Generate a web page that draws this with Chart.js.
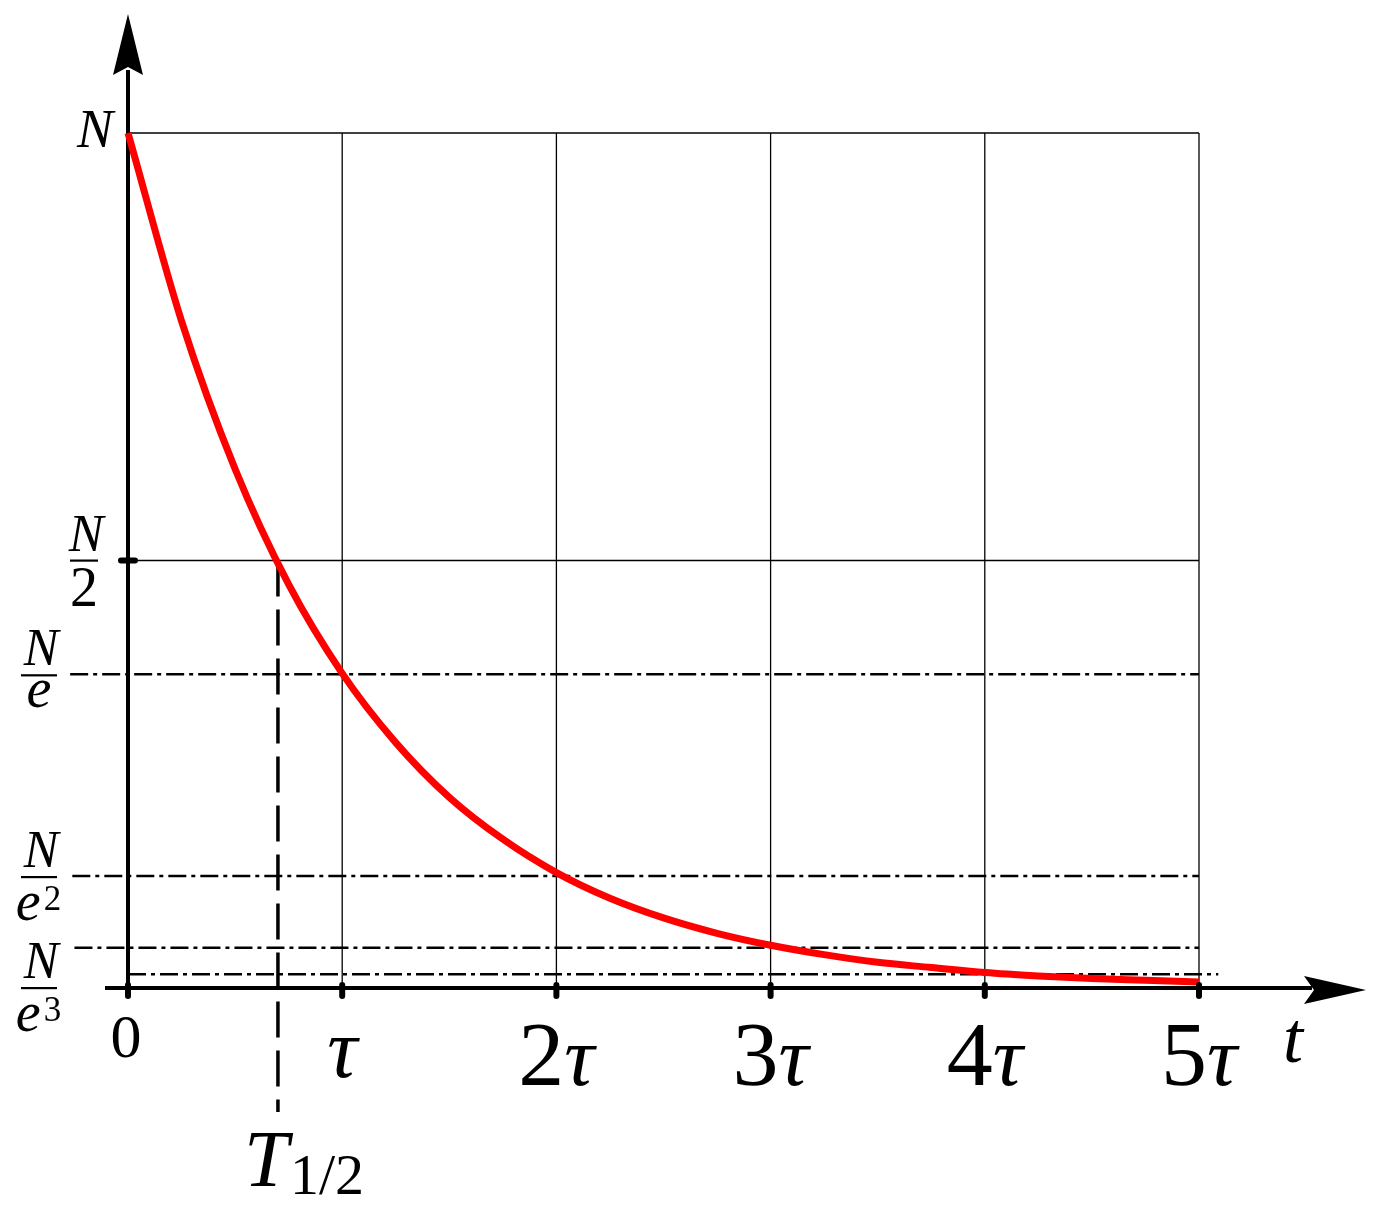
<!DOCTYPE html>
<html>
<head>
<meta charset="utf-8">
<script src="https://cdn.jsdelivr.net/npm/chart.js@4.4.1/dist/chart.umd.min.js"></script>
<style>
  html, body { margin: 0; padding: 0; background: #fff; }
  #wrap { width: 1379px; height: 1218px; position: relative; }
</style>
</head>
<body>
<div id="wrap"><canvas id="decay-chart"></canvas></div>
<script>
// ---- data (t in units of tau, N in units of N0) ----
const times = [0, 0.25, 0.5, 0.75, 1, 1.25, 1.5, 1.75, 2, 2.25, 2.5, 2.75, 3, 3.25, 3.5, 3.75, 4, 4.25, 4.5, 4.75, 5];
const counts = [1.0, 0.78, 0.607, 0.472, 0.368, 0.287, 0.223, 0.174, 0.135, 0.105, 0.082, 0.064, 0.05, 0.039, 0.03, 0.024, 0.018, 0.014, 0.011, 0.009, 0.007];

const tickTimes = [0, 1, 2, 3, 4, 5];
const tickLabels = ['0', 'τ', '2τ', '3τ', '4τ', '5τ'];
const gridTimes = [1, 2, 3, 4, 5];
const gridLevels = [1, 0.5];

// dash-dot reference levels N/e, N/e^2, N/e^3, N/e^4 and where each one starts / ends
const refLevels = [0.367, 0.131, 0.047, 0.016];
const refFrom = [-0.27, -0.26, -0.25, 0];
const refTo = [5, 5, 5, 5.09];

const halfLife = 0.70;
const halfLifeBottom = -0.145;

const FONT = "'Liberation Serif', 'DejaVu Serif', serif";

// ---- datasets ----
const datasets = [];

datasets.push({
    label: 'N(t)',
    data: times.map((t, i) => ({ x: t, y: counts[i] })),
    borderColor: '#ff0000',
    borderWidth: 7,
    pointRadius: 0,
    cubicInterpolationMode: 'monotone',
    order: 0
});

gridTimes.forEach(t => {
    datasets.push({
        data: [{ x: t, y: 0 }, { x: t, y: 1 }],
        borderColor: '#000', borderWidth: 1.3, pointRadius: 0, order: 5
    });
});
gridLevels.forEach(v => {
    datasets.push({
        data: [{ x: 0, y: v }, { x: 5, y: v }],
        borderColor: '#000', borderWidth: 1.3, pointRadius: 0, order: 5
    });
});
refLevels.forEach((v, i) => {
    datasets.push({
        data: [{ x: refFrom[i], y: v }, { x: refTo[i], y: v }],
        borderColor: '#000', borderWidth: 2.6, borderDash: [18, 5, 4, 5],
        pointRadius: 0, order: 4
    });
});
datasets.push({
    data: [{ x: halfLife, y: 0.5 }, { x: halfLife, y: halfLifeBottom }],
    borderColor: '#000', borderWidth: 3.5, borderDash: [36, 13],
    pointRadius: 0, order: 3
});

// ---- axes, arrows, ticks and labels ----
function fraction(ctx, cx, barY, halfW, num, den, sup) {
    ctx.font = 'italic 52px ' + FONT;
    ctx.textAlign = 'center';
    ctx.textBaseline = 'alphabetic';
    ctx.fillText(num, cx + 2, barY - 10);
    ctx.fillRect(cx - halfW, barY - 1, halfW * 2, 2.2);
    if (sup) {
        ctx.font = 'italic 56px ' + FONT;
        const w = ctx.measureText(den).width;
        ctx.font = '35px ' + FONT;
        const ws = ctx.measureText(sup).width;
        const x0 = cx - (w + ws) / 2 - 2;
        ctx.textAlign = 'left';
        ctx.font = 'italic 56px ' + FONT;
        ctx.fillText(den, x0, barY + 43);
        ctx.font = '35px ' + FONT;
        ctx.fillText(sup, x0 + w + 3, barY + 33);
    } else {
        ctx.font = (den === 'e' ? 'italic ' : '') + '56px ' + FONT;
        ctx.fillText(den, cx, barY + (den === 'e' ? 32 : 45));
    }
}

const axesPlugin = {
    id: 'decayAxes',
    beforeDatasetsDraw(chart) {
        const { ctx, scales: { x, y } } = chart;
        const x0 = x.getPixelForValue(0);
        const y0 = y.getPixelForValue(0);
        ctx.save();
        ctx.strokeStyle = '#000';
        ctx.fillStyle = '#000';
        ctx.lineWidth = 4;
        ctx.lineCap = 'butt';
        // vertical axis
        ctx.beginPath();
        ctx.moveTo(x0, y0 + 1);
        ctx.lineTo(x0, 70);
        ctx.stroke();
        // horizontal axis
        ctx.beginPath();
        ctx.moveTo(105, y0);
        ctx.lineTo(1312, y0);
        ctx.stroke();
        // arrow heads
        ctx.beginPath();
        ctx.moveTo(x0, 14);
        ctx.lineTo(x0 + 15, 75);
        ctx.lineTo(x0, 67);
        ctx.lineTo(x0 - 15, 75);
        ctx.closePath();
        ctx.fill();
        ctx.beginPath();
        ctx.moveTo(1366, y0 + 2);
        ctx.lineTo(1304, y0 - 12);
        ctx.lineTo(1314, y0 + 2);
        ctx.lineTo(1304, y0 + 16);
        ctx.closePath();
        ctx.fill();
        ctx.restore();
    },
    afterDatasetsDraw(chart) {
        const { ctx, scales: { x, y } } = chart;
        const x0 = x.getPixelForValue(0);
        const y0 = y.getPixelForValue(0);
        ctx.save();
        ctx.strokeStyle = '#000';
        ctx.fillStyle = '#000';
        ctx.lineCap = 'round';
        ctx.lineWidth = 6;
        // ticks on the time axis
        tickTimes.forEach(t => {
            const px = x.getPixelForValue(t);
            ctx.beginPath();
            ctx.moveTo(px, y0 - 3);
            ctx.lineTo(px, y0 + 8);
            ctx.stroke();
        });
        // N/2 tick
        const yh = y.getPixelForValue(0.5);
        ctx.beginPath();
        ctx.moveTo(x0 - 7, yh);
        ctx.lineTo(x0 + 7, yh);
        ctx.stroke();

        // time labels
        ctx.textBaseline = 'alphabetic';
        tickLabels.forEach((lab, i) => {
            const px = x.getPixelForValue(tickTimes[i]);
            if (lab === '0') {
                ctx.font = '62px ' + FONT;
                ctx.textAlign = 'center';
                ctx.fillText('0', px - 2, 1057);
                return;
            }
            const digit = lab.length > 1 ? lab[0] : '';
            ctx.font = '92px ' + FONT;
            const wd = digit ? ctx.measureText(digit).width : 0;
            ctx.font = 'italic 84px ' + FONT;
            const wt = ctx.measureText('τ').width;
            const left = px - (wd + wt) / 2;
            ctx.textAlign = 'left';
            if (digit) {
                ctx.font = '92px ' + FONT;
                ctx.fillText(digit, left, 1085);
            }
            ctx.font = 'italic 84px ' + FONT;
            ctx.fillText('τ', left + wd, digit ? 1085 : 1077);
        });
        ctx.font = 'italic 72px ' + FONT;
        ctx.textAlign = 'center';
        ctx.fillText('t', 1293, 1062);

        // half-life label
        const th = x.getPixelForValue(halfLife);
        ctx.textAlign = 'left';
        ctx.font = 'italic 80px ' + FONT;
        ctx.fillText('T', th - 34, 1186);
        ctx.font = '58px ' + FONT;
        ctx.fillText('1/2', th + 12, 1194);

        // level labels
        ctx.font = 'italic 54px ' + FONT;
        ctx.textAlign = 'center';
        ctx.fillText('N', 95, 147);
        fraction(ctx, 84, yh, 14, 'N', '2');
        fraction(ctx, 39, y.getPixelForValue(refLevels[0]) + 1, 18, 'N', 'e');
        fraction(ctx, 39, y.getPixelForValue(refLevels[1]) + 1, 18, 'N', 'e', '2');
        fraction(ctx, 39, 988, 18, 'N', 'e', '3');
        ctx.restore();
    }
};

new Chart(document.getElementById('decay-chart'), {
    type: 'line',
    data: { datasets },
    options: {
        responsive: true,
        maintainAspectRatio: false,
        animation: false,
        layout: { padding: 0 },
        plugins: { legend: { display: false }, tooltip: { enabled: false } },
        scales: {
            x: { type: 'linear', min: -0.59757, max: 5.84034, display: false },
            y: { type: 'linear', min: -0.26901, max: 1.15556, display: false }
        }
    },
    plugins: [axesPlugin]
});
</script>
</body>
</html>
